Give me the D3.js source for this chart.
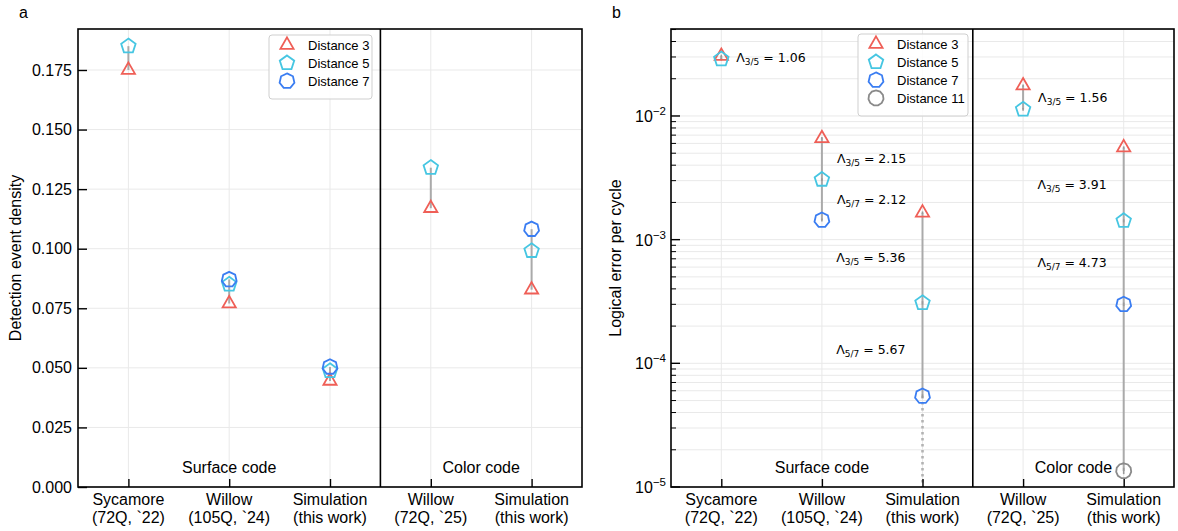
<!DOCTYPE html>
<html>
<head>
<meta charset="utf-8">
<script src="https://cdn.jsdelivr.net/npm/d3@7"></script>
<style>
  body { margin: 0; background: #fff; }
  svg { display: block; }
  text { font-family: "Liberation Sans", Arial, Helvetica, sans-serif; fill: #000; }
  .lam { font-family: "DejaVu Sans", sans-serif; white-space: pre; }
</style>
</head>
<body>
<svg id="fig" width="1178" height="531"></svg>
<script>
// ---- categories (two-line tick labels) ----
const catTop = ["Sycamore", "Willow", "Simulation", "Willow", "Simulation"];
const catBottom = ["(72Q, `22)", "(105Q, `24)", "(this work)", "(72Q, `25)", "(this work)"];
const familyLabels = ["Surface code", "Color code"];
const familyCols = [[0, 1, 2], [3, 4]];

// ---- detection event density per code distance ----
const detD3 = [0.175, 0.077, 0.0445, 0.117, 0.0828];
const detD5 = [0.185, 0.085, 0.0487, 0.134, 0.0991];
const detD7 = [null, 0.0871, 0.0504, null, 0.1082];
const detTicks = [0, 0.025, 0.05, 0.075, 0.1, 0.125, 0.15, 0.175];

// ---- logical error per cycle per code distance ----
const lerD3 = [0.0305, 0.0066, 0.00165, 0.0176, 0.00556];
const lerD5 = [0.0288, 0.00306, 0.000308, 0.0113, 0.00142];
const lerD7 = [null, 0.00144, 5.43e-5, null, 0.0003];
const lerD11 = [null, null, null, null, 1.35e-5];
// small statistical uncertainties
const lerErrD3 = [0.0008, 0.00015, 0.00004, 0.0004, 0.00012];
const lerErrD5 = [0.0008, 0.00008, 0.00001, 0.0003, 0.00004];
const lerErrD7 = [null, 0.00004, 0.0000018, null, 0.00001];
const lerErrD11 = [null, null, null, null, 0.0000008];
// extrapolated d=9 point of the simulated surface code (below axis range)
const lerExtrapCol = 2;
const lerExtrapD9 = 9.6e-6;
const lerMajorTicks = [1e-5, 1e-4, 1e-3, 1e-2];

// ---- error suppression factors Λ ----
const lambdaCols = [0, 1, 1, 2, 2, 3, 4, 4];
const lambdaSub = ["3/5", "3/5", "5/7", "3/5", "5/7", "3/5", "3/5", "5/7"];
const lambdaVal = ["1.06", "2.15", "2.12", "5.36", "5.67", "1.56", "3.91", "4.73"];

// ---- styling ----
const distances = [3, 5, 7, 11];
const distColor = { 3: "#ef5f57", 5: "#46c6e2", 7: "#3a7df2", 11: "#8a8a8a" };
const gridColor = "#e9e9e9";
const linkColor = "#aaaaaa";

const svg = d3.select("#fig");

function polygonPath(n, r) {
  const pts = d3.range(n).map(i => {
    const a = -Math.PI / 2 + i * 2 * Math.PI / n;
    return [r * Math.cos(a), r * Math.sin(a)];
  });
  return "M" + pts.map(p => p.join(",")).join("L") + "Z";
}

function drawMarker(g, d, x, y) {
  g.append("path")
    .attr("d", polygonPath(d, 7.6))
    .attr("transform", `translate(${x},${y})`)
    .attr("fill", "none")
    .attr("stroke", distColor[d])
    .attr("stroke-width", 1.8)
    .attr("stroke-linejoin", "miter");
}

function drawPanel(cfg) {
  const { left, right, top, bottom } = cfg;
  const g = svg.append("g");
  const x = d3.scaleLinear().domain([-0.5, 4.5]).range([left, right]);
  const y = cfg.y;
  const cols = d3.range(catTop.length);

  // grid
  const grid = g.append("g");
  grid.selectAll(".hg").data(cfg.gridY).join("line")
    .attr("x1", left).attr("x2", right)
    .attr("y1", d => y(d)).attr("y2", d => y(d))
    .attr("stroke", gridColor).attr("stroke-width", 1);
  grid.selectAll(".vg").data(cols).join("line")
    .attr("x1", d => x(d)).attr("x2", d => x(d))
    .attr("y1", top).attr("y2", bottom)
    .attr("stroke", gridColor).attr("stroke-width", 1);

  // family labels
  familyLabels.forEach((lab, i) => {
    g.append("text")
      .attr("x", x(d3.mean(familyCols[i])))
      .attr("y", bottom - 14)
      .attr("text-anchor", "middle")
      .attr("font-size", 16)
      .text(lab);
  });

  // connecting lines between distances of one experiment
  const series = cfg.series;
  cols.forEach(c => {
    const vals = series.map(s => s.values[c]).filter(v => v != null);
    if (vals.length < 2) return;
    g.append("line")
      .attr("x1", x(c)).attr("x2", x(c))
      .attr("y1", y(d3.max(vals))).attr("y2", y(d3.min(vals)))
      .attr("stroke", linkColor).attr("stroke-width", 2);
  });
  if (cfg.extrap) {
    const e = cfg.extrap;
    g.append("line")
      .attr("x1", x(e.col)).attr("x2", x(e.col))
      .attr("y1", y(e.from)).attr("y2", Math.min(y(e.to), bottom))
      .attr("stroke", "#b3b3b3").attr("stroke-width", 2.6)
      .attr("stroke-dasharray", "2.4,3.6");
  }

  // error bars
  series.forEach(s => {
    if (!s.err) return;
    cols.forEach(c => {
      const v = s.values[c];
      if (v == null) return;
      g.append("line")
        .attr("x1", x(c)).attr("x2", x(c))
        .attr("y1", y(v + s.err[c])).attr("y2", y(v - s.err[c]))
        .attr("stroke", "#9a9a9a").attr("stroke-width", 1.6);
    });
  });

  // markers
  series.forEach(s => {
    cols.forEach(c => {
      const v = s.values[c];
      if (v == null) return;
      drawMarker(g, s.d, x(c), y(v));
    });
  });

  // Λ annotations
  if (cfg.lambdas) cfg.lambdas(g, x, y);

  // divider between surface and color code
  g.append("line")
    .attr("x1", x(2.5)).attr("x2", x(2.5))
    .attr("y1", top).attr("y2", bottom)
    .attr("stroke", "#000").attr("stroke-width", 1.6);

  // x axis (inward ticks, two-line labels)
  const xa = g.append("g").attr("transform", `translate(0,${bottom})`)
    .call(d3.axisBottom(x).tickValues(cols).tickSize(-8).tickFormat(""));
  xa.select(".domain").remove();
  xa.selectAll(".tick line").attr("stroke", "#000").attr("stroke-width", 1.4);
  cols.forEach(c => {
    const t = g.append("text").attr("text-anchor", "middle").attr("font-size", 16);
    t.append("tspan").attr("x", x(c)).attr("y", bottom + 18).text(catTop[c]);
    t.append("tspan").attr("x", x(c)).attr("y", bottom + 36).text(catBottom[c]);
  });

  // y axis
  cfg.yAxis(g, y);

  // frame
  g.append("rect")
    .attr("x", left).attr("y", top)
    .attr("width", right - left).attr("height", bottom - top)
    .attr("fill", "none").attr("stroke", "#000").attr("stroke-width", 1.6);

  // legend
  const lg = cfg.legend;
  const lgG = g.append("g");
  lgG.append("rect")
    .attr("x", lg.x).attr("y", lg.y).attr("width", lg.w).attr("height", 10 + lg.ds.length * 18)
    .attr("rx", 3).attr("fill", "#fff").attr("fill-opacity", 0.85)
    .attr("stroke", "#cfcfcf").attr("stroke-width", 1);
  lg.ds.forEach((d, i) => {
    const ry = lg.y + 10 + i * 18;
    drawMarker(lgG, d, lg.x + 18, ry);
    lgG.append("text")
      .attr("x", lg.x + 39).attr("y", ry + 4.6)
      .attr("font-size", 13)
      .text("Distance " + d);
  });

  // axis title & panel letter
  g.append("text")
    .attr("transform", `translate(${cfg.titleX},${(top + bottom) / 2}) rotate(-90)`)
    .attr("text-anchor", "middle").attr("font-size", 16)
    .text(cfg.title);
  g.append("text").attr("x", cfg.letterX).attr("y", 18).attr("font-size", 16).text(cfg.letter);
}

// ---------- panel a ----------
const yA = d3.scaleLinear().domain([0, 0.1922]).range([487, 29]);
drawPanel({
  left: 78, right: 582, top: 29, bottom: 487,
  y: yA,
  gridY: detTicks,
  series: [
    { d: 3, values: detD3 },
    { d: 5, values: detD5 },
    { d: 7, values: detD7 }
  ],
  yAxis: (g, y) => {
    const ya = g.append("g").attr("transform", "translate(78,0)")
      .call(d3.axisLeft(y).tickValues(detTicks).tickSize(-9).tickPadding(6).tickFormat(d3.format(".3f")));
    ya.select(".domain").remove();
    ya.selectAll(".tick line").attr("stroke", "#000").attr("stroke-width", 1.4);
    ya.selectAll(".tick text").attr("font-size", 16)
      .attr("font-family", "'Liberation Sans', Arial, sans-serif").attr("fill", "#000");
  },
  legend: { x: 269, y: 35, w: 103, ds: [3, 5, 7] },
  title: "Detection event density", titleX: 21,
  letter: "a", letterX: 19
});

// ---------- panel b ----------
const yB = d3.scaleLog().domain([1e-5, 0.0505]).range([487, 29]);
const minorB = [];
[-5, -4, -3, -2].forEach(e => d3.range(2, 10).forEach(m => {
  const v = m * Math.pow(10, e);
  if (v < 0.0505) minorB.push(v);
}));
drawPanel({
  left: 671, right: 1174, top: 29, bottom: 487,
  y: yB,
  gridY: lerMajorTicks.concat(minorB),
  series: [
    { d: 3, values: lerD3, err: lerErrD3 },
    { d: 5, values: lerD5, err: lerErrD5 },
    { d: 7, values: lerD7, err: lerErrD7 },
    { d: 11, values: lerD11, err: lerErrD11 }
  ],
  extrap: { col: lerExtrapCol, from: lerD7[lerExtrapCol], to: lerExtrapD9 },
  lambdas: (g, x, y) => {
    const pairs = { "3/5": [lerD3, lerD5], "5/7": [lerD5, lerD7] };
    lambdaCols.forEach((c, i) => {
      const [a, b] = pairs[lambdaSub[i]];
      const ym = y(Math.sqrt(a[c] * b[c]));
      const rightSide = (c !== 2 && c !== 4);
      const t = g.append("text").attr("class", "lam")
        .attr("x", rightSide ? x(c) + 15 : x(c) - 17)
        .attr("y", ym + 4.5)
        .attr("text-anchor", rightSide ? "start" : "end")
        .attr("font-size", 12.5);
      t.append("tspan").text("\u039B");
      t.append("tspan").attr("font-size", 9).attr("dy", 3).text(lambdaSub[i]);
      t.append("tspan").attr("dy", -3).text(" = " + lambdaVal[i]);
    });
  },
  yAxis: (g, y) => {
    const ya = g.append("g").attr("transform", "translate(671,0)");
    ya.selectAll(".mj").data(lerMajorTicks).join("line")
      .attr("x1", 0).attr("x2", 9).attr("y1", d => y(d)).attr("y2", d => y(d))
      .attr("stroke", "#000").attr("stroke-width", 1.4);
    ya.selectAll(".mn").data(minorB).join("line")
      .attr("x1", 0).attr("x2", 5).attr("y1", d => y(d)).attr("y2", d => y(d))
      .attr("stroke", "#000").attr("stroke-width", 1);
    lerMajorTicks.forEach(v => {
      const e = Math.round(Math.log10(v));
      const t = ya.append("text").attr("x", -5).attr("y", y(v) + 6)
        .attr("text-anchor", "end").attr("font-size", 16);
      t.append("tspan").text("10");
      t.append("tspan").attr("font-size", 11.5).attr("dy", -7).text("\u2212" + Math.abs(e));
    });
  },
  legend: { x: 858, y: 34, w: 110, ds: [3, 5, 7, 11] },
  title: "Logical error per cycle", titleX: 621,
  letter: "b", letterX: 612
});
</script>
</body>
</html>
